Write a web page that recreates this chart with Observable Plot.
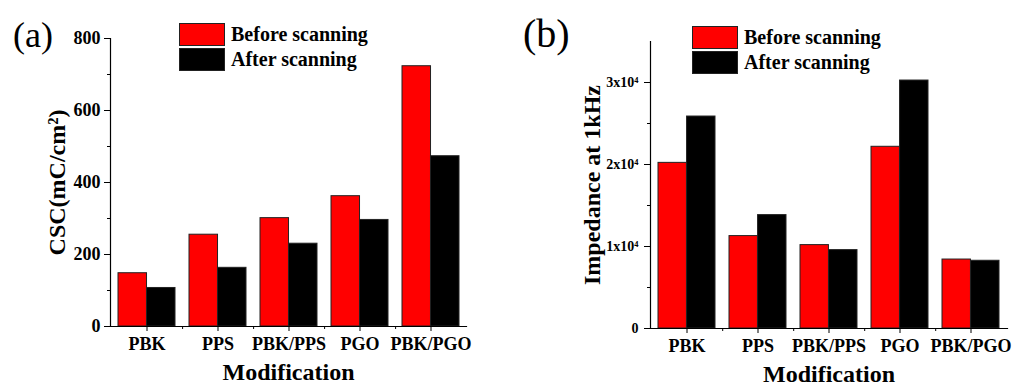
<!DOCTYPE html>
<html>
<head>
<meta charset="utf-8">
<script src="https://cdn.jsdelivr.net/npm/d3@7"></script>
<script src="https://cdn.jsdelivr.net/npm/@observablehq/plot@0.6"></script>
<style>
  body { margin: 0; background: #fff; }
  #wrap { position: relative; width: 1013px; height: 385px; overflow: hidden; background: #fff;
          font-family: "Liberation Serif", "Times New Roman", serif; color: #000; }
  .panel { position: absolute; top: 0; }
  .panel svg { font-family: "Liberation Serif", "Times New Roman", serif; font-weight: bold; background: transparent; }
  .panel g[aria-label="y-axis label"], .panel g[aria-label="x-axis label"] { font-size: 24px; }
  .panel g[aria-label="x-axis tick label"] { font-size: 18px; }
  #pa g[aria-label="y-axis tick label"] { font-size: 18px; }
  #pb g[aria-label="y-axis tick label"] { font-size: 14px; }
  .tag { position: absolute; font-weight: normal; line-height: 1; white-space: nowrap; }
  .legend { position: absolute; font-weight: bold; font-size: 20px; }
  .legend .row { display: flex; align-items: center; height: 22.5px; margin-bottom: 2.5px; }
  .legend .sw { width: 44px; height: 21px; border: 1px solid #222; margin-right: 6px; box-sizing: content-box; }
</style>
</head>
<body>
<div id="wrap">
  <div class="panel" id="pa" style="left:0px"></div>
  <div class="panel" id="pb" style="left:507px"></div>
  <div class="tag" style="left:13px;top:17px;font-size:36px">(a)</div>
  <div class="tag" style="left:523px;top:14px;font-size:40px">(b)</div>
  <div class="legend" id="lega" style="left:179px;top:23px"></div>
  <div class="legend" id="legb" style="left:692px;top:26px"></div>
</div>
<script>
// ---- data ----
const categories = ["PBK", "PPS", "PBK/PPS", "PGO", "PBK/PGO"];
const series = ["Before scanning", "After scanning"];
const seriesColors = ["#ff0000", "#000000"];

const cscBefore = [148, 255, 301, 362, 723];
const cscAfter  = [107, 163, 230, 296, 473];

const impBefore = [20200, 11270, 10170, 22160, 8410];
const impAfter  = [25850, 13830, 9560, 30240, 8260];

const cscMajorTicks = [0, 200, 400, 600, 800];
const cscMinorTicks = [100, 300, 500, 700];
const impMajorTicks = [0, 10000, 20000, 30000];
const impTickLabels = ["0", "1x10\u2074", "2x10\u2074", "3x10\u2074"];
const impMinorTicks = [5000, 15000, 25000];

const W = 506, H = 385;

function makePanel({before, after, yDomain, majorTicks, minorTicks, tickFormat, yLabel,
                    ml, mr, mt, mb, yTickPadding, yLabelOffset}) {
  const rows = categories.map((c, i) => ({category: c, before: before[i], after: after[i]}));
  const step = (W - ml - mr) / categories.length; // paddingInner 0.2, paddingOuter 0.1
  const half = step * 0.8 / 2;
  return Plot.plot({
    width: W, height: H,
    marginLeft: ml, marginRight: mr, marginTop: mt, marginBottom: mb,
    x: {domain: categories, paddingInner: 0.2, paddingOuter: 0.1},
    y: {domain: yDomain},
    marks: [
      Plot.barY(rows, {x: "category", y: "before", fill: seriesColors[0], stroke: "#222", strokeWidth: 1, insetRight: half}),
      Plot.barY(rows, {x: "category", y: "after", fill: seriesColors[1], stroke: "#222", strokeWidth: 1, insetLeft: half}),
      Plot.axisY({ticks: minorTicks, tickSize: 3, tickFormat: () => "", label: null}),
      Plot.axisY({ticks: majorTicks, tickSize: 6, tickPadding: yTickPadding, tickFormat,
                  label: yLabel, labelAnchor: "center", labelOffset: yLabelOffset, labelArrow: false}),
      Plot.axisX({tickSize: 5, tickPadding: 6, label: "Modification", labelAnchor: "center",
                  labelOffset: 53, labelArrow: false}),
      Plot.axisX({ticks: categories.slice(0, -1), tickSize: 3, tickFormat: () => "", label: null, dx: step / 2}),
      Plot.frame({anchor: "left", strokeWidth: 1.2}),
      Plot.frame({anchor: "bottom", strokeWidth: 1.2})
    ]
  });
}

document.getElementById("pa").append(makePanel({
  before: cscBefore, after: cscAfter, yDomain: [0, 800],
  majorTicks: cscMajorTicks, minorTicks: cscMinorTicks, tickFormat: d => String(d),
  yLabel: "CSC(mC/cm\u00B2)", ml: 110, mr: 40, mt: 38, mb: 59, yTickPadding: 4, yLabelOffset: 63
}));

document.getElementById("pb").append(makePanel({
  before: impBefore, after: impAfter, yDomain: [0, 35000],
  majorTicks: impMajorTicks, minorTicks: impMinorTicks,
  tickFormat: d => impTickLabels[impMajorTicks.indexOf(d)],
  yLabel: "Impedance at 1kHz", ml: 143, mr: 6, mt: 41, mb: 57, yTickPadding: 6, yLabelOffset: 68
}));

function legend(id) {
  const el = document.getElementById(id);
  series.forEach((s, i) => {
    const row = document.createElement("div");
    row.className = "row";
    const sw = document.createElement("div");
    sw.className = "sw";
    sw.style.background = seriesColors[i];
    const t = document.createElement("span");
    t.textContent = s;
    row.append(sw, t);
    el.append(row);
  });
}
legend("lega");
legend("legb");
</script>
</body>
</html>
